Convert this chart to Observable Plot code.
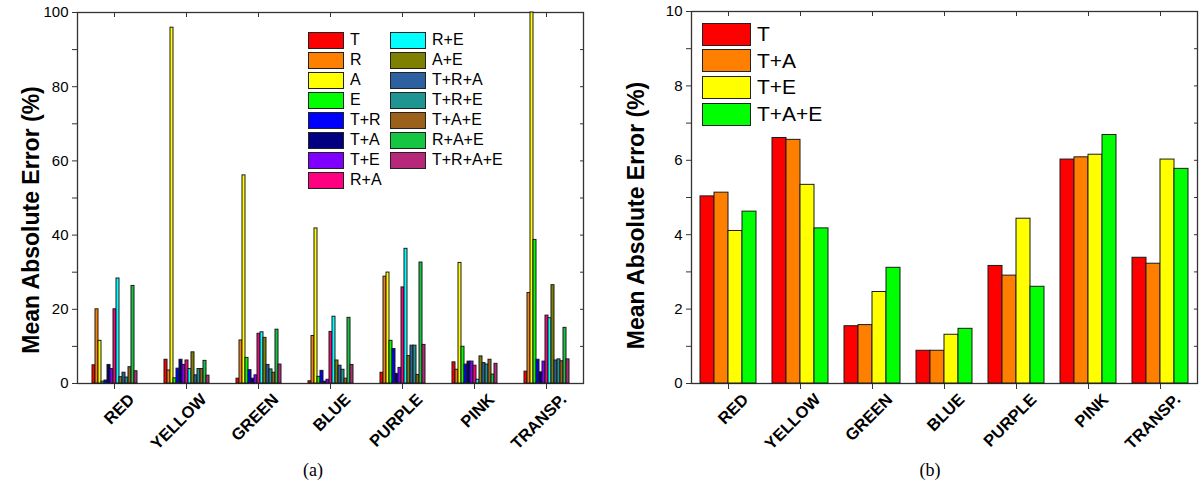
<!DOCTYPE html>
<html><head><meta charset="utf-8">
<script src="https://cdn.jsdelivr.net/npm/d3@7"></script>
<script src="https://cdn.jsdelivr.net/npm/@observablehq/plot@0.6"></script>
<style>
body{margin:0;background:#fff;}
#root{position:relative;width:1204px;height:490px;overflow:hidden;font-family:"Liberation Sans",Arial,sans-serif;background:#fff;}
.layer{position:absolute;top:0;}
.leg{position:absolute;display:flex;align-items:center;white-space:nowrap;color:#000;}
.sw{box-sizing:border-box;border:1.5px solid #222;}
.cap{position:absolute;font-family:"Liberation Serif","Times New Roman",serif;font-size:18px;transform:translateX(-50%);}
</style></head><body><div id="root"></div>
<script>
// ---------- data ----------
const categories = ["RED","YELLOW","GREEN","BLUE","PURPLE","PINK","TRANSP."];
const yLabel = "Mean Absolute Error (%)";

// Panel (a): 15 feature combinations
const seriesA = ["T","R","A","E","T+R","T+A","T+E","R+A","R+E","A+E","T+R+A","T+R+E","T+A+E","R+A+E","T+R+A+E"];
const colorsA = ["#ff0000","#ff8000","#ffff00","#00ff00","#0000ff","#000080","#8000ff","#ff0080","#00ffff","#808000","#2c60a0","#1e9590","#9b6019","#14c641","#b8287a"];
const a_T      = [4.9, 6.4, 1.3, 0.6, 2.9, 5.7, 3.2];
const a_R      = [20.0, 3.5, 11.6, 12.8, 28.8, 3.7, 24.4];
const a_A      = [11.5, 95.9, 56.1, 41.8, 29.9, 32.5, 100];
const a_E      = [0.5, 1.4, 6.9, 1.8, 11.5, 9.9, 38.7];
const a_TR     = [0.8, 4.0, 3.6, 3.4, 9.3, 5.1, 6.4];
const a_TA     = [5.0, 6.4, 1.3, 0.5, 2.6, 5.9, 3.0];
const a_TE     = [3.9, 5.0, 2.2, 1.0, 4.2, 5.9, 5.9];
const a_RA     = [20.0, 6.2, 13.4, 13.9, 25.9, 4.8, 18.3];
const a_RE     = [28.3, 3.9, 13.8, 18.0, 36.3, 1.0, 17.6];
const a_AE     = [1.7, 8.4, 12.3, 6.2, 7.4, 7.3, 26.5];
const a_TRA    = [2.9, 2.2, 5.0, 4.8, 10.2, 5.5, 6.2];
const a_TRE    = [1.6, 3.9, 3.8, 3.7, 10.2, 5.1, 6.5];
const a_TAE    = [4.4, 3.9, 2.9, 1.3, 2.3, 6.4, 6.0];
const a_RAE    = [26.3, 6.1, 14.5, 17.7, 32.6, 2.4, 15.0];
const a_TRAE   = [3.3, 2.1, 5.1, 5.0, 10.4, 5.3, 6.5];
const valuesA = [a_T,a_R,a_A,a_E,a_TR,a_TA,a_TE,a_RA,a_RE,a_AE,a_TRA,a_TRE,a_TAE,a_RAE,a_TRAE];
const yMajorA = [0,20,40,60,80,100];
const yMinorA = [10,30,50,70,90];

// Panel (b): 4 combinations
const seriesB = ["T","T+A","T+E","T+A+E"];
const colorsB = ["#ff0000","#ff8000","#ffff00","#00ff00"];
const b_T   = [5.03, 6.60, 1.54, 0.88, 3.16, 6.02, 3.38];
const b_TA  = [5.13, 6.55, 1.57, 0.88, 2.90, 6.08, 3.22];
const b_TE  = [4.10, 5.34, 2.46, 1.31, 4.43, 6.15, 6.02];
const b_TAE = [4.62, 4.17, 3.11, 1.47, 2.60, 6.68, 5.77];
const valuesB = [b_T,b_TA,b_TE,b_TAE];
const yMajorB = [0,2,4,6,8,10];
const yMinorB = [1,3,5,7,9];

// ---------- build ----------
const FONT = "'Liberation Sans', Arial, sans-serif";
const root = document.getElementById("root");

function rowsOf(series, values){
  return categories.flatMap((c,i)=>series.map((s,j)=>({cat:c, s, v:values[j][i]})));
}

function panel({left, width, mL, mR, mT, mB, series, colors, values, yMax, yMajor, yMinor, padOuter, labelDx, labelDy}){
  const H = 440;
  const rows = rowsOf(series, values);
  const axes = Plot.plot({
    width, height: H, marginLeft: mL, marginRight: mR, marginTop: mT, marginBottom: mB,
    x: {type:"band", domain: categories, padding: 0, axis: null},
    y: {domain: [0, yMax], axis: null},
    style: {fontFamily: FONT, color: "#000", background: "white", overflow: "visible"},
    marks: [
      Plot.axisY({ticks: yMajor, tickSize: 5, tickPadding: 4, fontSize: 15, label: null, stroke: "#333"}),
      Plot.axisY({ticks: yMinor, tickSize: 5, tickFormat: () => "", label: null, stroke: "#333"}),
      Plot.axisY({anchor: "right", ticks: yMajor.concat(yMinor), tickSize: 4, dx: -4, tickFormat: () => "", label: null, stroke: "#333"}),
      Plot.axisX({tickSize: 6, tickFormat: () => "", label: null, stroke: "#333"}),
      Plot.axisX({anchor: "top", tickSize: 4, dy: 4, tickFormat: () => "", label: null, stroke: "#333"}),
      Plot.frame({stroke: "#333", strokeWidth: 1.3}),
      Plot.text(categories, {x: d => d, frameAnchor: "bottom", text: d => d, rotate: -45, textAnchor: "end", lineAnchor: "bottom", dx: 21, dy: 17, fontWeight: "bold", fontSize: 16.5, fill: "#000"}),
      Plot.text([yLabel], {frameAnchor: "left", text: d => d, rotate: -90, textAnchor: "middle", lineAnchor: "middle", dx: labelDx, dy: labelDy, fontWeight: "bold", fontSize: 23, fill: "#000"})
    ]
  });
  const bars = Plot.plot({
    width, height: H, marginLeft: mL, marginRight: mR, marginTop: mT, marginBottom: mB,
    facet: {data: rows, x: "cat"},
    fx: {domain: categories, padding: 0, axis: null, label: null},
    x: {domain: series, paddingInner: 0, paddingOuter: padOuter, axis: null},
    y: {domain: [0, yMax], axis: null},
    color: {domain: series, range: colors},
    style: {background: "transparent", overflow: "visible"},
    marks: [Plot.barY(rows, {x: "s", y: "v", fill: "s", stroke: "#1a1a1a", strokeWidth: 1})]
  });
  for (const el of [axes, bars]) {
    el.classList.add("layer");
    el.style.position = "absolute";
    el.style.left = left + "px";
    el.style.top = "0px";
    root.appendChild(el);
  }
}

panel({left: 0, width: 600, mL: 77, mR: 17, mT: 12, mB: 57, series: seriesA, colors: colorsA, values: valuesA,
  yMax: 100, yMajor: yMajorA, yMinor: yMinorA, padOuter: 1.54, labelDx: -46, labelDy: 22});
panel({left: 600, width: 604, mL: 91, mR: 7, mT: 11, mB: 57, series: seriesB, colors: colorsB, values: valuesB,
  yMax: 10, yMajor: yMajorB, yMinor: yMinorB, padOuter: 0.5, labelDx: -55, labelDy: 18});

// ---------- legends ----------
function legendItem(x, yc, name, color, sw, sh, gap, fs){
  const d = document.createElement("div");
  d.className = "leg";
  d.style.left = x + "px";
  d.style.top = (yc - sh/2) + "px";
  d.style.height = sh + "px";
  d.style.fontSize = fs + "px";
  const s = document.createElement("div");
  s.className = "sw";
  s.style.width = sw + "px"; s.style.height = sh + "px"; s.style.background = color;
  const t = document.createElement("span");
  t.textContent = name; t.style.marginLeft = gap + "px";
  d.appendChild(s); d.appendChild(t);
  root.appendChild(d);
}
seriesA.forEach((s,i)=>{
  const col = i < 8 ? 0 : 1, row = i < 8 ? i : i - 8;
  legendItem(col ? 390 : 308, 40 + 20*row, s, colorsA[i], 36, 17, 6, 16);
});
seriesB.forEach((s,i)=>{
  legendItem(702, 34 + 26.7*i, s, colorsB[i], 49, 23, 6, 21);
});

// ---------- captions ----------
[["(a)", 313], ["(b)", 930]].forEach(([t,x])=>{
  const c = document.createElement("div");
  c.className = "cap"; c.textContent = t;
  c.style.left = x + "px"; c.style.top = "460px";
  root.appendChild(c);
});
</script></body></html>
